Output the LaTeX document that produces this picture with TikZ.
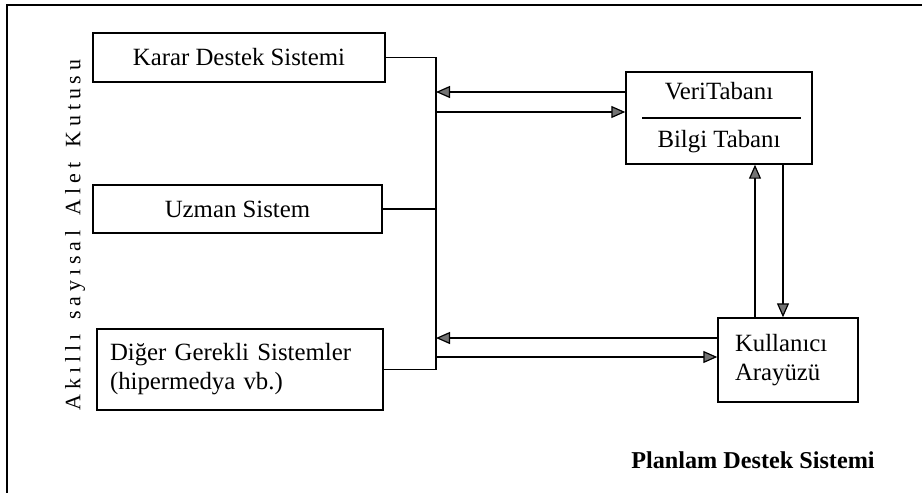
\documentclass[tikz,border=0pt]{standalone}
\usepackage{fontspec}
\setmainfont{Liberation Serif}
\newfontfamily\aralikliFont[LetterSpace=22]{Liberation Serif}
\usetikzlibrary{arrows.meta}

\begin{document}
\begin{tikzpicture}[x=0.5pt, y=-0.5pt,
  line width=0.7pt,
  kutu/.style={draw, rectangle, inner sep=2pt, font=\fontsize{12.4}{14.5}\selectfont},
  ok/.style={-{Triangle[length=7pt, width=6pt, fill=black!55, line width=0.6pt]}}]

% Sinirlar
\useasboundingbox (0,0) rectangle (922,493);
\draw (7,493) -- (7,5) -- (922,5);

% Sol kutular
\node[kutu, minimum width=146pt, minimum height=24.5pt] (karar) at (239,57.5) {Karar Destek Sistemi};
\node[kutu, minimum width=144.5pt, minimum height=24pt] (uzman) at (237.5,209) {Uzman Sistem};
\node[kutu, minimum width=143pt, minimum height=40.5pt, text width=130pt, align=left] (diger) at (240,369.5)
  {Di\u{g}er Gerekli Sistemler\\(hipermedya vb.)};

% Sag kutular
\node[kutu, minimum width=93pt, minimum height=46pt, align=center] (veri) at (719,118)
  {VeriTaban\i\\[9.5pt]Bilgi Taban\i};
\draw[line width=0.6pt] ([xshift=8.5pt]veri.west) -- ([xshift=-6pt]veri.east);
\node[kutu, minimum width=70pt, minimum height=42pt, text width=53pt, align=left] (kul) at (788,360)
  {Kullan\i c\i\\Aray\"uz\"u};

% Yan yazi
\node[rotate=90, font=\aralikliFont\fontsize{11}{13}\selectfont] (yan) at (75,235)
  {Ak\i ll\i\ \hspace{2.5pt}say\i sal\ \hspace{2.5pt}Alet\ \hspace{2.5pt}Kutusu};

% Baslik
\node[font=\bfseries\fontsize{12.1}{14}\selectfont] (baslik) at (753,460) {Planlam Destek Sistemi};

% Baglanti hatti
\coordinate (bus) at (436,0);
\draw (karar.east) -| (bus |- diger.east) -- (diger.east);
\draw (uzman.east) -- (uzman.east -| bus);

% Oklar
\draw[ok] ([yshift=13pt]veri.west) -- ([yshift=13pt]veri.west -| bus);
\draw[ok] ([yshift=3pt]veri.west -| bus) -- ([yshift=3pt]veri.west);
\draw[ok] ([yshift=11pt]kul.west) -- ([yshift=11pt]kul.west -| bus);
\draw[ok] ([yshift=1.5pt]kul.west -| bus) -- ([yshift=1.5pt]kul.west);
\draw[ok] ([xshift=-16.5pt]kul.north) -- ([xshift=-16.5pt]kul.north |- veri.south);
\draw[ok] ([xshift=-2.5pt]kul.north |- veri.south) -- ([xshift=-2.5pt]kul.north);

\end{tikzpicture}
\end{document}
